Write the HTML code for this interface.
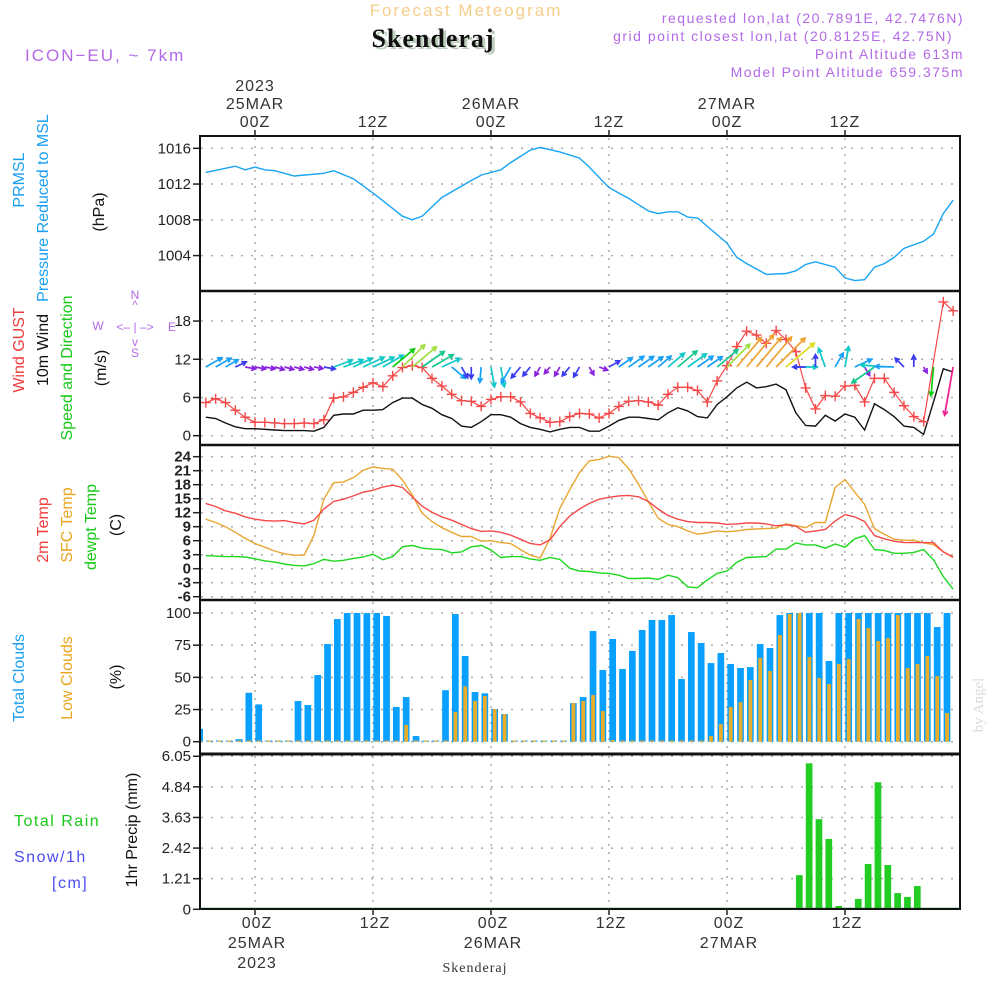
<!DOCTYPE html>
<html><head><meta charset="utf-8"><style>
body{margin:0;background:#fff}
svg{display:block;font-family:"Liberation Sans",sans-serif}
.tk{font-size:15px;fill:#222;text-anchor:end}
.tx{font-size:16px;fill:#333;text-anchor:middle;letter-spacing:1px}
.lb{font-size:16px}
</style></head><body>
<svg id="chart" width="1000" height="1000" viewBox="0 0 1000 1000" xmlns="http://www.w3.org/2000/svg">
<defs>
<clipPath id="plotclip"><rect x="201" y="137" width="758" height="771"/></clipPath>
</defs>
<text x="466" y="16" font-size="17" fill="#f5cf8a" text-anchor="middle" letter-spacing="2">Forecast Meteogram</text>
<text x="436" y="49" font-size="26" font-weight="bold" font-family="Liberation Serif,serif" fill="#bcd0bc" text-anchor="middle" letter-spacing="1">Skenderaj</text>
<text x="433" y="47" font-size="26" font-weight="bold" font-family="Liberation Serif,serif" fill="#111" text-anchor="middle" letter-spacing="1">Skenderaj</text>
<text x="25" y="61" font-size="17" fill="#b36ae8" letter-spacing="2">ICON−EU, ~ 7km</text>
<g font-size="14" fill="#b36ae8" text-anchor="end" letter-spacing="1.5">
<text x="964" y="23">requested lon,lat (20.7891E, 42.7476N)</text>
<text x="953" y="41">grid point closest lon,lat (20.8125E, 42.75N)</text>
<text x="964" y="59">Point Altitude 613m</text>
<text x="964" y="77">Model Point Altitude 659.375m</text>
</g>
<g id="panels"></g>
<g id="series" clip-path="url(#plotclip)"></g>
<g id="frames"></g>
<g id="labels">
<g class="lb">
<text transform="translate(24,180) rotate(-90)" fill="#1aa0f0" text-anchor="middle">PRMSL</text>
<text transform="translate(48,208) rotate(-90)" fill="#1aa0f0" text-anchor="middle">Pressure Reduced to MSL</text>
<text transform="translate(104,212) rotate(-90)" fill="#111" text-anchor="middle">(hPa)</text>
<text transform="translate(24,350) rotate(-90)" fill="#f03c3c" text-anchor="middle">Wind GUST</text>
<text transform="translate(48,350) rotate(-90)" fill="#111" text-anchor="middle">10m Wind</text>
<text transform="translate(72,368) rotate(-90)" fill="#18c818" text-anchor="middle">Speed and Direction</text>
<text transform="translate(106,368) rotate(-90)" fill="#111" text-anchor="middle">(m/s)</text>
<text transform="translate(48,530) rotate(-90)" fill="#f03c3c" text-anchor="middle">2m Temp</text>
<text transform="translate(72,525) rotate(-90)" fill="#eaa520" text-anchor="middle">SFC Temp</text>
<text transform="translate(96,527) rotate(-90)" fill="#18c818" text-anchor="middle">dewpt Temp</text>
<text transform="translate(121,525) rotate(-90)" fill="#111" text-anchor="middle">(C)</text>
<text transform="translate(24,678) rotate(-90)" fill="#1aa0f0" text-anchor="middle">Total Clouds</text>
<text transform="translate(72,678) rotate(-90)" fill="#eaa520" text-anchor="middle">Low Clouds</text>
<text transform="translate(121,677) rotate(-90)" fill="#111" text-anchor="middle">(%)</text>
<text transform="translate(137,830) rotate(-90)" fill="#111" text-anchor="middle">1hr Precip (mm)</text>
<text x="14" y="826" fill="#18c818" letter-spacing="1.5">Total  Rain</text>
<text x="14" y="862" fill="#4c4cf0" letter-spacing="1.5">Snow/1h</text>
<text x="52" y="888" fill="#4c4cf0" letter-spacing="1.5">[cm]</text>
</g>
<g fill="#b36ae8" font-size="12" text-anchor="middle">
<text x="135" y="299">N</text><text x="135" y="309">^</text>
<text x="135" y="331">&lt;– | –&gt;</text>
<text x="98" y="330">W</text><text x="172" y="331">E</text>
<text x="135" y="346">v</text><text x="135" y="357">S</text>
</g>
<text transform="translate(983,705) rotate(-90)" font-size="15" fill="#d8dcd8" text-anchor="middle" font-family="Liberation Serif,serif">by Angel</text>
<text x="475" y="972" font-size="14" fill="#333" text-anchor="middle" font-family="Liberation Serif,serif" letter-spacing="1">Skenderaj</text>
</g>
</svg>
<script>
// ---- data (hourly, hour 0 = 25MAR 00Z) ----
const hours = [];
for (let h = -5; h <= 71; h++) hours.push(h);
const pressureHours = [-5,-2,-1,0,1,2,4,7,8,10,12,15,16,17,19,22,23,25,26,28,29,31,33,34,36,37,38,40,41,42,43,44,45,48,49,50,52,54,55,56,57,59,60,61,62,63,64,65,66,68,69,70,71];
const pressureVals = [1013.3,1014.0,1013.6,1013.9,1013.6,1013.5,1012.9,1013.2,1013.5,1012.6,1011.0,1008.4,1008.0,1008.4,1010.5,1012.4,1013.0,1013.6,1014.4,1015.8,1016.1,1015.6,1014.9,1013.9,1011.6,1011.0,1010.4,1009.0,1008.7,1008.9,1008.9,1008.3,1008.2,1005.4,1003.8,1003.1,1001.9,1002.0,1002.3,1003.0,1003.3,1002.7,1001.5,1001.2,1001.3,1002.7,1003.1,1003.8,1004.8,1005.6,1006.4,1008.7,1010.2];
const gust = [5.2,5.8,5.2,4.0,2.9, 2.1,2.1,2.0,1.9,1.9,2.0,1.9,2.5,5.9,6.1, 6.8,7.6,8.3,7.7,9.4,10.7,11.0,10.7,9.0,7.8, 6.5,5.5,5.4,4.6,5.7,6.1,6.1,5.3,3.5,2.8, 2.1,2.2,3.0,3.5,3.4,2.8,3.5,4.6,5.4,5.5, 5.3,4.8,6.5,7.6,7.6,7.1,5.3,8.6,11.0,14.0, 16.4,15.8,14.5,16.5,15.1,13.2,7.5,4.2,6.3,6.2, 7.8,7.9,5.3,9.0,9.0,6.8,4.7,3.0,2.2,null, 21.0,19.6];
const windSpeed = [2.9,2.7,2.0,1.4,1.1, 1.1,1.0,0.9,0.8,0.8,0.8,0.7,1.3,3.2,3.4, 3.4,4.0,4.0,4.1,5.2,5.9,5.9,4.9,4.3,3.3, 2.7,1.5,1.3,2.2,3.3,3.3,2.9,1.9,1.3,1.0, 0.6,1.0,1.3,1.3,0.7,0.7,1.5,2.4,2.9,2.9, 2.7,2.5,3.6,4.4,3.9,3.0,2.8,4.9,6.1,7.5, 8.4,7.5,7.7,8.1,7.2,3.6,1.6,1.5,3.2,2.3, 3.4,2.9,0.9,5.0,4.1,3.0,1.5,1.3,0.2,5.3, 10.5,10.0];
const windAngle = [30,30,30,25,-10, -10,-10,-15,-15,-15,-15,-10,-10,20,20, 25,25,25,30,40,45,40,35,30,25, -40,-60,-90,-95,-80,-80,-120,-130,-130,-120, -130,-120,-130,-120,-60,-20,30,35,35,35, 35,40,40,40,35,35,35,40,45,50, 50,50,50,45,40,0,180,90,110,60, 80,25,-60,215,175,178,135,90,-60,-95, null,-100];
const temp2m = [14.0,13.3,12.4,11.9,11.1, 10.6,10.3,10.2,10.3,9.9,9.6,10.4,12.8,14.4,14.9, 15.6,16.4,16.8,17.5,17.9,17.4,15.4,13.4,12.1,11.1, 10.4,9.5,8.6,8.0,8.1,7.8,7.2,6.3,5.4,5.1, 6.2,9.0,11.3,12.8,14.0,14.9,15.3,15.6,15.7,15.4, 14.4,12.8,11.4,10.6,10.1,9.9,9.9,9.8,9.5,9.6, 9.8,9.8,9.6,9.2,9.4,9.1,7.8,8.1,8.4,10.2, 11.6,11.1,10.1,7.1,6.4,5.9,5.6,5.6,5.6,5.6, 3.6,2.5];
const tempSfc = [10.6,9.9,9.0,7.8,6.5, 5.4,4.6,3.8,3.2,2.9,2.9,7.2,14.9,18.4,18.6, 19.5,21.1,21.8,21.5,21.3,19.0,15.8,11.9,10.1,8.8, 7.8,6.9,6.9,5.9,6.0,5.6,5.4,4.1,2.9,2.3, 6.5,12.9,16.9,20.6,23.1,23.4,24.1,23.8,21.4,18.1, 14.4,10.8,9.5,9.0,8.1,7.4,7.7,8.1,7.9,8.1, 8.4,8.5,8.6,8.7,9.6,9.2,8.8,9.9,9.9,17.4, 19.1,16.4,13.8,8.6,7.4,6.3,6.1,6.1,5.5,5.2, 3.6,2.4];
const tempDew = [2.8,2.7,2.6,2.6,2.5, 2.1,1.7,1.4,1.0,0.7,0.6,1.1,2.0,1.6,1.8, 2.2,2.5,3.1,1.9,2.6,4.7,5.0,4.4,4.2,4.1, 3.4,3.6,4.7,5.0,4.0,2.4,2.6,2.6,2.1,1.8, 2.4,2.0,0.1,-0.5,-0.6,-0.9,-1.0,-1.4,-2.1,-2.1, -2.0,-2.3,-1.4,-1.9,-3.9,-4.1,-2.4,-1.0,-0.5,1.4, 2.4,2.5,2.6,4.2,4.2,5.5,5.1,5.1,4.4,5.3, 4.6,6.4,7.1,4.1,3.9,3.3,3.3,3.5,4.1,1.9, -1.7,-4.4];
const cloudTotal = [10,0,0,0,2, 38,29,0,0,0,31.6,28.5,51.8,75.9,95.3, 100,100,100,100,97.7,27,34.7,4.4,0,0, 40,99.2,66.6,38.6,37.6,25.4,21.5,0,0,0, 0,0,0,30,34.7,86,55.7,79.8,56.5,70.5, 86.8,94.6,94.6,98.4,48.7,85.2,76.7,61.1,68.9,60.4, 57.3,58,75.9,72.8,98.4,100,100,100,100,62.7, 100,100,100,100,100,100,100,100,100,100, 89.1,100];
const cloudLow = [0,0,0,0,0, 0,0,0,0,0,0,0,0,0,0, 0,0,0,0,0,0,13,0,0,0, 0,23,43,31.6,35.5,25.4,21.5,0,0,0, 0,0,0,30,31.6,36.3,23.8,1.3,0,0, 0,0,0,0,0,0,0,4.4,13.7,27, 30.8,47.9,65,54.9,82.9,99.2,100,65.8,49.5,44.8, 60.4,64.2,95.3,88.3,78.2,80.6,98.4,57.3,60.4,66.6, 51,22.3];
const precip = [0,0,0,0,0, 0,0,0,0,0,0,0,0,0,0, 0,0,0,0,0,0,0,0,0,0, 0,0,0.03,0.03,0,0,0,0,0,0, 0,0,0,0,0,0,0,0,0,0, 0,0,0,0,0,0,0,0,0,0, 0,0,0,0,0,0,1.35,5.77,3.56,2.78, 0.13,0.05,0.41,1.79,5.02,1.75,0.64,0.49,0.92,0, 0,0];
const pressureTicks = [1004,1008,1012,1016];
const windTicks = [0,6,12,18];
const tempTicks = [-6,-3,0,3,6,9,12,15,18,21,24];
const cloudTicks = [0,25,50,75,100];
const precipTicks = [0,1.21,2.42,3.63,4.84,6.05];
const timeTickHours = [0,12,24,36,48,60];
const timeTickLabels = ['00Z','12Z','00Z','12Z','00Z','12Z'];
const dateLabels = {0:'25MAR',24:'26MAR',48:'27MAR'};

// ---- axis functions ----
const X = h => 255 + h*9.833;
const yP = p => 148.3 + (1016-p)*8.94;
const yW = v => 435.7 - v*6.37;
const yT = t => 568.7 - t*4.667;
const yC = c => 741.7 - c*1.287;
const yR = r => 909.3 - r*25.3;

const NS='http://www.w3.org/2000/svg';
function mk(tag, attrs, parent){const e=document.createElementNS(NS,tag);for(const k in attrs)e.setAttribute(k,attrs[k]);parent.appendChild(e);return e;}
const gP=document.getElementById('panels'), gS=document.getElementById('series'), gF=document.getElementById('frames');

const panels=[
 ['pressure',136,291,pressureTicks,yP,15],
 ['wind',291,445,windTicks,yW,15],
 ['temp',445,600,tempTicks,yT,14],
 ['cloud',600,754,cloudTicks,yC,15],
 ['precip',754,909,precipTicks,yR,15]];
panels.forEach(p=>{
  const [name,top,bot,ticks,fy,fs]=p;
  ticks.forEach(v=>{
    const y=fy(v);
    const g=mk('line',{x1:201,x2:959,y1:y,y2:y,stroke:'#aaa','stroke-width':1.5,'stroke-dasharray':'2 8'},gP);
    
    
    const t=mk('line',{x1:193,x2:200,y1:y,y2:y,stroke:'#222','stroke-width':1.5},gF);
    
    
    const lb=mk('text',{x:191,y:y+5,'class':'tk','font-size':fs,'font-weight':name==='temp'?'bold':'normal'},gF);
    
    
    lb.textContent=String(v);
  });
  timeTickHours.forEach(h=>{
    const v=mk('line',{x1:X(h),x2:X(h),y1:top+2,y2:bot-2,stroke:'#aaa','stroke-width':1.5,'stroke-dasharray':'2 6'},gP);
    
    
  });
});
const fr=mk('rect',{x:200,y:136,width:760,height:773,fill:'none',stroke:'#111','stroke-width':2},gF);


[291,445,600,754].forEach(y=>{
  const l=mk('line',{x1:200,x2:960,y1:y,y2:y,stroke:'#111','stroke-width':y===754?3:2.5},gF);
  
  
});
timeTickHours.forEach((h,i)=>{
  const tt=mk('line',{x1:X(h),x2:X(h),y1:130,y2:136,stroke:'#222','stroke-width':1.5},gF);
  
  
  const bt=mk('line',{x1:X(h),x2:X(h),y1:909,y2:915,stroke:'#222','stroke-width':1.5},gF);
  
  
  const a=mk('text',{x:X(h),y:127,'class':'tx'},gF);
  
  
  a.textContent=timeTickLabels[i];
  const b=mk('text',{x:X(h)+2,y:928,'class':'tx'},gF);
  
  
  b.textContent=timeTickLabels[i];
  if(dateLabels[h]){
    const d=mk('text',{x:X(h),y:109,'class':'tx'},gF);
    
    
    d.textContent=dateLabels[h];
    const e=mk('text',{x:X(h)+2,y:948,'class':'tx'},gF);
    
    
    e.textContent=dateLabels[h];
  }
});
const y1=mk('text',{x:X(0),y:91,'class':'tx'},gF);


y1.textContent='2023';
const y2=mk('text',{x:X(0)+2,y:968,'class':'tx'},gF);


y2.textContent='2023';

function linePath(hs,vals,fy){let d='';let first=true;hs.forEach((h,i)=>{if(vals[i]===null)return;d+=(first?'M':'L')+X(h).toFixed(1)+','+fy(vals[i]).toFixed(1);first=false;});return d;}

hours.forEach((h,i)=>{
  const x=X(h)-9.5;
  const ht=Math.max(1.2,741.7-yC(cloudTotal[i]));
  const b=mk('rect',{x:x,y:741.7-ht,width:6.7,height:ht,fill:'#0aa0ff'},gS);
  
  
  const hl=Math.max(1.2,741.7-yC(cloudLow[i]));
  const o=mk('rect',{x:x+1.5,y:741.7-hl,width:3.8,height:hl,fill:'#e8ad2a'},gS);
  
  
});
hours.forEach((h,i)=>{
  const v=precip[i]; const ht=909.3-yR(v);
  if(ht<=0) return;
  const b=mk('rect',{x:X(h)-9.7,y:yR(v),width:6.7,height:ht,fill:'#22cc22'},gS);
  
  
});
const pb=mk('line',{x1:201,x2:959,y1:908.5,y2:908.5,stroke:'#1a8a1a','stroke-width':1.5},gS);



const pl=mk('path',{d:linePath(pressureHours,pressureVals,yP),fill:'none',stroke:'#18a4f4','stroke-width':1.4},gS);


const ts=mk('path',{d:linePath(hours,tempSfc,yT),fill:'none',stroke:'#e8a630','stroke-width':1.4},gS);


const t2=mk('path',{d:linePath(hours,temp2m,yT),fill:'none',stroke:'#f54848','stroke-width':1.4},gS);


const td=mk('path',{d:linePath(hours,tempDew,yT),fill:'none',stroke:'#1ed81e','stroke-width':1.4},gS);


const ws=mk('path',{d:linePath(hours,windSpeed,yW),fill:'none',stroke:'#111','stroke-width':1.4},gS);


const gl=mk('path',{d:linePath(hours,gust,yW),fill:'none',stroke:'#f54848','stroke-width':1.2},gS);


hours.forEach((h,i)=>{
  if(gust[i]===null)return;
  const x=X(h), y=yW(gust[i]);
  const m=mk('path',{d:`M${x-5},${y}H${x+5}M${x},${y-5}V${y+5}`,stroke:'#f54848','stroke-width':1.4},gS);
  
  
});
function windColor(s){
  if(s<1.3)return '#8a22dd'; if(s<2.0)return '#3a3af0'; if(s<3.2)return '#18a0f8';
  if(s<4.2)return '#10c8c8'; if(s<5.1)return '#12c890'; if(s<5.7)return '#10cc10';
  if(s<6.6)return '#a0e040'; if(s<7.3)return '#e0dc20'; if(s<9.5)return '#f0a030'; return '#ee2090';
}
hours.forEach((h,i)=>{
  const a=windAngle[i]; if(a===null)return;
  const s=windSpeed[i]; const len=4.3*s+6;
  const r=a*Math.PI/180;
  const x0=X(h), y0=367;
  const x1=x0+len*Math.cos(r), y1=y0-len*Math.sin(r);
  const hb=5;
  const ha1=r+Math.PI-0.5, ha2=r+Math.PI+0.5;
  const d=`M${x0.toFixed(1)},${y0}L${x1.toFixed(1)},${y1.toFixed(1)}M${(x1+hb*Math.cos(ha1)).toFixed(1)},${(y1-hb*Math.sin(ha1)).toFixed(1)}L${x1.toFixed(1)},${y1.toFixed(1)}L${(x1+hb*Math.cos(ha2)).toFixed(1)},${(y1-hb*Math.sin(ha2)).toFixed(1)}`;
  const ar=mk('path',{d:d,fill:'none',stroke:windColor(s),'stroke-width':1.7},gS);
  
  
});
</script>
</body></html>
